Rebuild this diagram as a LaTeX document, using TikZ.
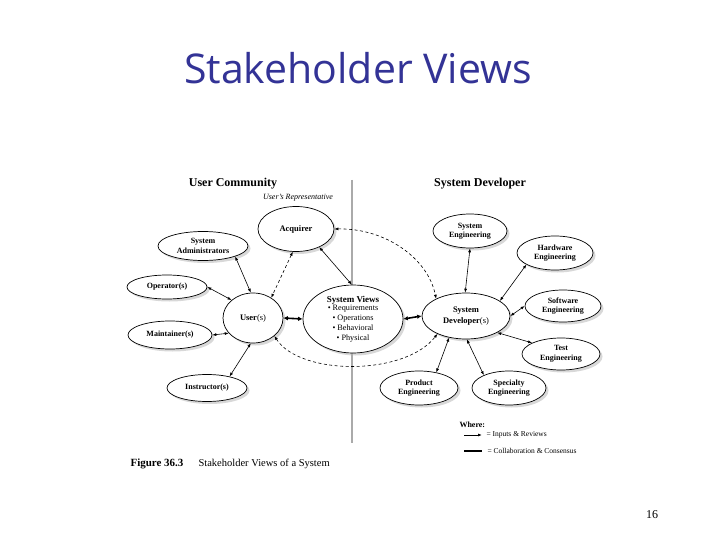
\documentclass[tikz,border=0pt]{standalone}
\usepackage{fontspec}
\setmainfont{Liberation Serif}
\newfontfamily\titlefont{Open Sans}
\usetikzlibrary{shapes.geometric,arrows.meta,shadows}
\definecolor{titleblue}{RGB}{51,51,150}
\definecolor{divgray}{RGB}{170,170,170}
\tikzset{
  stake/.style 2 args={ellipse, draw, fill=white, line width=0.7pt, inner sep=0pt,
    minimum width=#1, minimum height=#2, align=center,
    font=\bfseries\fontsize{8}{9.5}\selectfont,
    drop shadow={shadow xshift=2.5pt, shadow yshift=-2.5pt, fill=black!30}},
  link/.style={<->, >={Latex[length=4pt,width=3pt]}, line width=0.6pt},
  collab/.style={<->, >={Latex[length=4.5pt,width=4.5pt]}, line width=1.6pt},
  rep/.style={link, dash pattern=on 3pt off 2.5pt},
  head/.style={font=\bfseries\fontsize{12}{14}\selectfont},
}
\begin{document}
\begin{tikzpicture}[x=1pt, y=-1pt]
  \useasboundingbox[fill=white] (0,0) rectangle (720,540);

  % Title and page number
  \node[font=\titlefont\fontsize{41}{48}\selectfont, text=titleblue] (title) at (358,68) {Stakeholder Views};
  \node[font=\fontsize{12}{14}\selectfont] (pagenum) at (652,515) {16};

  % Divider between the two communities
  \draw[divgray, line width=2pt] (352,180) -- (352,443);
  \node[head] (usercomm) at (233,184) {User Community};
  \node[head] (sysdevhead) at (480,184) {System Developer};
  \node[font=\itshape\fontsize{8}{10}\selectfont] (userrep) at (298,198) {User's Representative};

  % User community
  \node[stake={76pt}{45pt}, font=\bfseries\fontsize{8.5}{10}\selectfont] (acq) at (296,229) {Acquirer};
  \node[stake={90pt}{29pt}] (sysadm) at (203,246) {System\\Administrators};
  \node[stake={80pt}{24pt}] (oper) at (167,287) {Operator(s)};
  \node[stake={60pt}{50pt}, font=\fontsize{8.5}{10}\selectfont] (user) at (253,318) {\textbf{User}(s)};
  \node[stake={84pt}{28pt}] (maint) at (170,335) {Maintainer(s)};
  \node[stake={80pt}{27pt}] (instr) at (207,388) {Instructor(s)};

  % Shared views
  \node[stake={100pt}{68pt}, font=\normalfont\fontsize{8.2}{10}\selectfont] (sysviews) at (353,319)
    {{\bfseries\fontsize{9}{11}\selectfont System Views}\\[-2pt]
     • Requirements\\ • Operations\\ • Behavioral\\ • Physical};

  % System developer
  \node[stake={88pt}{46pt}, font=\fontsize{8.5}{11}\selectfont] (sysdev) at (466,316) {\textbf{System}\\\textbf{Developer}(s)};
  \node[stake={74pt}{34pt}] (syseng) at (470,231) {System\\Engineering};
  \node[stake={76pt}{34pt}] (hweng) at (555,253) {Hardware\\Engineering};
  \node[stake={76pt}{32pt}] (sweng) at (563,306) {Software\\Engineering};
  \node[stake={78pt}{32pt}] (testeng) at (561,354) {Test\\Engineering};
  \node[stake={78pt}{34pt}] (prodeng) at (419,388) {Product\\Engineering};
  \node[stake={74pt}{34pt}] (speceng) at (509,388) {Specialty\\Engineering};

  % Inputs and reviews
  \draw[link] (sysadm.-18) -- (user.95);
  \draw[link] (oper.east) -- (user.140);
  \draw[link] (maint.east) -- (user.212);
  \draw[link] (instr.27) -- (user.265);
  \draw[link] (acq.-38) -- (sysviews.92);
  \draw[link] (syseng.south) -- (sysdev.92);
  \draw[link] (hweng.202) -- (sysdev.24);
  \draw[link] (sweng.west) -- (sysdev.east);
  \draw[link] (testeng.159) -- (sysdev.-28);
  \draw[link] (prodeng.42) -- (sysdev.232);
  \draw[link] (speceng.153) -- (sysdev.-88);

  % Collaboration
  \draw[collab] (user.east) -- (sysviews.west);
  \draw[collab] (sysviews.east) -- (sysdev.west);

  % Representative links
  \draw[rep] (acq.262) -- (user.48);
  \draw[rep] (acq.east) .. controls (385,228) and (428,258) .. (sysdev.150);
  \draw[rep] (user.-40) .. controls (300,376) and (405,376) .. (sysdev.212);

  % Legend
  \node[anchor=west, font=\bfseries\fontsize{8}{10}\selectfont] (where) at (456,425) {Where:};
  \coordinate (ina) at (464,435);
  \coordinate (inb) at (482,435);
  \draw[-{Latex[length=4pt,width=3pt]}, line width=0.8pt] (ina) -- (inb);
  \node[anchor=west, font=\fontsize{7.5}{9}\selectfont] (inlbl) at (483,435) {= Inputs \& Reviews};
  \coordinate (cola) at (464,451);
  \coordinate (colb) at (482,451);
  \draw[line width=1.8pt] (cola) -- (colb);
  \node[anchor=west, font=\fontsize{7.5}{9}\selectfont] (collbl) at (484,451) {= Collaboration \& Consensus};

  % Caption
  \node[anchor=west, font=\bfseries\fontsize{11}{13}\selectfont] (fignum) at (127,464) {Figure 36.3};
  \node[anchor=west, font=\fontsize{10.5}{13}\selectfont] (figcap) at (195,464) {Stakeholder Views of a System};
\end{tikzpicture}
\end{document}
